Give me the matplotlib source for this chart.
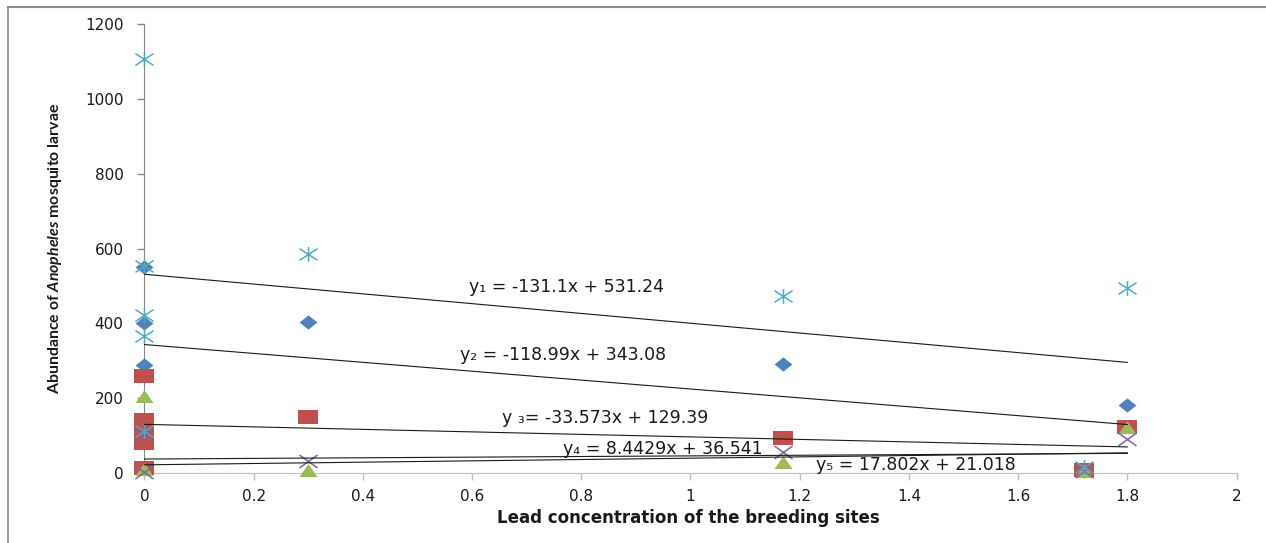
import matplotlib

matplotlib.use("Agg")
import matplotlib.pyplot as plt
import numpy as np
from matplotlib.lines import Line2D
from matplotlib.path import Path

# series (x = lead concentration, y = larvae abundance)
diamond_x = [0, 0, 0, 0.3, 1.17, 1.72, 1.8]
diamond_y = [552, 402, 288, 403, 290, 5, 181]
square_x = [0, 0, 0, 0, 0, 0.3, 1.17, 1.72, 1.8]
square_y = [260, 141, 110, 80, 12, 150, 92, 8, 123]
triangle_x = [0, 0, 0.3, 1.17, 1.72, 1.8]
triangle_y = [203, 7, 5, 27, 3, 119]
cross_x = [0, 0, 0.3, 1.17, 1.72, 1.8]
cross_y = [100, 3, 31, 56, 5, 89]
star_x = [0, 0, 0, 0, 0, 0.3, 1.17, 1.72, 1.8]
star_y = [1107, 553, 422, 366, 112, 586, 473, 16, 494]

# linear trendlines as printed on the chart
trend_slope = [-131.1, -118.99, -33.573, 8.4429, 17.802]
trend_intercept = [531.24, 343.08, 129.39, 36.541, 21.018]
trend_labels = [
    "y\u2081 = -131.1x + 531.24",
    "y\u2082 = -118.99x + 343.08",
    "y \u2083= -33.573x + 129.39",
    "y\u2084 = 8.4429x + 36.541",
    "y\u2085 = 17.802x + 21.018",
]
label_pos = [(0.773, 498), (0.766, 315), (0.844, 146), (0.950, 63), (1.413, 20)]

x_ticks = [0, 0.2, 0.4, 0.6, 0.8, 1, 1.2, 1.4, 1.6, 1.8, 2]
y_ticks = [0, 200, 400, 600, 800, 1000, 1200]

# markers slightly wider than tall, like the stretched original
M = Path.MOVETO
L = Path.LINETO
DIAMOND = Path([(-1, 0), (0, 0.8), (1, 0), (0, -0.8), (-1, 0)])
SQUARE = Path([(-1, -0.74), (1, -0.74), (1, 0.74), (-1, 0.74), (-1, -0.74)])
TRIANGLE = Path([(-1, -0.62), (1, -0.62), (0, 0.82), (-1, -0.62)])
CROSS = Path([(-1, -0.72), (1, 0.72), (-1, 0.72), (1, -0.72)], [M, L, M, L])
STAR = Path([(-1, -0.65), (1, 0.65), (-1, 0.65), (1, -0.65), (0, -0.82), (0, 0.82)],
            [M, L, M, L, M, L])

plt.rcParams.update({
    "font.family": "DejaVu Sans",
    "mathtext.fontset": "custom",
    "mathtext.rm": "Lato:bold",
    "mathtext.it": "Lato:italic:bold",
})

fig = plt.figure(figsize=(12.66, 5.43), dpi=100, facecolor="white")
ax = fig.add_axes([0.1141, 0.1295, 0.8626, 0.8254])

common = dict(ls="none", zorder=3, clip_on=False)
ax.plot(diamond_x, diamond_y, marker=DIAMOND, ms=12.8, mfc="#4F81BD", mec="#4F81BD", mew=0, **common)
ax.plot(square_x, square_y, marker=SQUARE, ms=13.7, mfc="#C0504D", mec="#C0504D", mew=0, **common)
ax.plot(triangle_x, triangle_y, marker=TRIANGLE, ms=13, mfc="#9BBB59", mec="#9BBB59", mew=0, **common)
ax.plot(cross_x, cross_y, marker=CROSS, ms=13, mfc="none", mec="#8064A2", mew=1.1, **common)
ax.plot(star_x, star_y, marker=STAR, ms=13, mfc="none", mec="#4BACC6", mew=1.1, **common)

all_x = diamond_x + square_x + triangle_x + cross_x + star_x
tx = np.array([min(all_x), max(all_x)])
for slope, icpt, lab, (lx, ly) in zip(trend_slope, trend_intercept, trend_labels, label_pos):
    ax.plot(tx, slope * tx + icpt, color="#1a1a1a", lw=0.8, zorder=4)
    ax.text(lx, ly, lab, ha="center", va="center", fontsize=12.5, color="#1a1a1a", zorder=5)

ax.set_xlim(0, 2)
ax.set_ylim(0, 1200)
ax.set_xticks(x_ticks)
ax.set_xticklabels([f"{t:g}" for t in x_ticks])
ax.set_yticks(y_ticks)

for side in ("top", "right"):
    ax.spines[side].set_visible(False)
ax.spines["left"].set_color("#868686")
ax.spines["bottom"].set_color("#BFBFBF")
ax.tick_params(axis="y", direction="out", length=5, width=1, color="#868686", pad=10, labelsize=11, labelcolor="#1a1a1a")
ax.tick_params(axis="x", direction="out", length=5, width=1, color="#BFBFBF", pad=7, labelsize=11, labelcolor="#1a1a1a")

fig.text(688 / 1266, 1 - 518 / 543, "Lead concentration of the breeding sites", ha="center", va="center",
         fontsize=12, weight="bold", color="#1a1a1a")
fig.text(55 / 1266, 1 - 248 / 543, r"Abundance of $\mathit{Anopheles}$ mosquito larvae", rotation=90,
         ha="center", va="center", fontsize=11.4, color="#1a1a1a",
         family=["Lato", "DejaVu Sans"], weight="bold")

# chart-area border (cropped on the right and bottom)
bx, by = 8 / 1266, 1 - 7 / 543
fig.add_artist(Line2D([bx, bx], [0, by], transform=fig.transFigure, color="#8C8C8C", lw=1.2))
fig.add_artist(Line2D([bx, 1], [by, by], transform=fig.transFigure, color="#8C8C8C", lw=1.5))

fig.savefig("out.png", dpi=100, facecolor="white")
